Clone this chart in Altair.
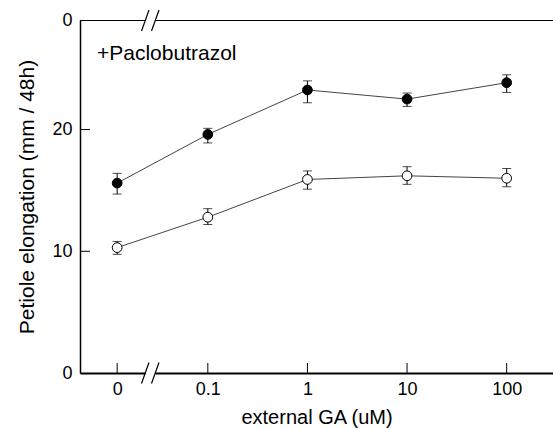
import altair as alt
import pandas as pd

# ---- data ----
doses = [0, 0.1, 1, 10, 100]
pac_mean = [15.6, 19.6, 23.25, 22.5, 23.85]
pac_lo = [14.7, 18.9, 22.2, 21.9, 23.05]
pac_hi = [16.4, 20.1, 24.0, 23.0, 24.5]
ctl_mean = [10.3, 12.8, 15.9, 16.2, 16.0]
ctl_lo = [9.75, 12.2, 15.1, 15.5, 15.3]
ctl_hi = [10.8, 13.5, 16.6, 16.95, 16.8]
y_tick_values = [0, 10, 20, 29]
y_tick_labels = ["0", "10", "20", "0"]
annotation = "+Paclobutrazol"

rows = []
for name, m, lo, hi in [("pac", pac_mean, pac_lo, pac_hi), ("ctl", ctl_mean, ctl_lo, ctl_hi)]:
    for d, a, b, c in zip(doses, m, lo, hi):
        rows.append({"series": name, "dose": d, "mean": a, "lo": b, "hi": c})
df = pd.DataFrame(rows)
dose_df = pd.DataFrame({"dose": doses})
ytick_df = pd.DataFrame({"v": [v for v in y_tick_values if 0 < v < 25]})
one_df = pd.DataFrame({"k": [0]})

W, H = 473, 353
FONT = "Liberation Sans"
XCALC = "datum.dose > 0 ? log(datum.dose) / LN10 : -1.91"

x_scale = alt.Scale(domain=[-2.283, 2.465], nice=False, zero=False)
y_scale = alt.Scale(domain=[0, 29], nice=False, zero=False)

y_label_expr = " : ".join(
    [f"datum.value == {v} ? '{l}'" for v, l in zip(y_tick_values, y_tick_labels)]
) + " : ''"

x_axis = alt.Axis(
    values=[-1.91, -1, 0, 1, 2],
    labelExpr="datum.value < -1.5 ? '0' : '' + pow(10, datum.value)",
    ticks=False, grid=False, domainColor="black", domainWidth=2,
    labelFontSize=18, labelPadding=7, labelColor="black",
    title="external GA (uM)", titleFontSize=20, titleFontWeight="normal",
    titlePadding=9, titleColor="black",
)
y_axis = alt.Axis(
    values=y_tick_values, labelExpr=y_label_expr,
    ticks=False, grid=False, domainColor="black", domainWidth=1.5,
    labelFontSize=18, labelPadding=8, labelColor="black",
    title="Petiole elongation (mm / 48h)", titleFontSize=21,
    titleFontWeight="normal", titlePadding=14, titleColor="black",
)


def X(field="xpos"):
    return alt.X(f"{field}:Q", scale=x_scale, axis=x_axis)


def Y(field):
    return alt.Y(f"{field}:Q", scale=y_scale, axis=y_axis)


base = alt.Chart(df).transform_calculate(xpos=XCALC)

lines = base.mark_line(color="#444444", strokeWidth=1).encode(
    x=X(), y=Y("mean"), detail="series:N",
)
err = base.mark_rule(color="black", strokeWidth=1).encode(
    x=X(), y=Y("lo"), y2="hi:Q",
)
cap_hi = base.mark_tick(color="black", orient="horizontal", size=9, thickness=1).encode(
    x=X(), y=Y("hi"),
)
cap_lo = base.mark_tick(color="black", orient="horizontal", size=9, thickness=1).encode(
    x=X(), y=Y("lo"),
)
points = base.mark_point(filled=True, size=95, strokeWidth=1, opacity=1).encode(
    x=X(), y=Y("mean"),
    fill=alt.Fill("series:N", scale=alt.Scale(domain=["pac", "ctl"], range=["black", "white"]), legend=None),
    stroke=alt.value("black"),
    shape=alt.value("circle"),
)

# inward tick marks
xticks = alt.Chart(dose_df).transform_calculate(xpos=XCALC).mark_rule(color="black", strokeWidth=1).encode(
    x=X(), y=alt.value(H - 10), y2=alt.value(H),
)
yticks = alt.Chart(ytick_df).mark_rule(color="black", strokeWidth=1).encode(
    y=Y("v"), x=alt.value(0), x2=alt.value(10),
)

# top frame line with break, and axis break marks
top1 = alt.Chart(one_df).mark_rule(color="black", strokeWidth=1.2).encode(
    x=alt.value(0), x2=alt.value(65.5), y=alt.value(0.5))
top2 = alt.Chart(one_df).mark_rule(color="black", strokeWidth=1.2).encode(
    x=alt.value(75.5), x2=alt.value(W), y=alt.value(0.5))
gap = alt.Chart(one_df).mark_rect(color="white").encode(
    x=alt.value(65.5), x2=alt.value(75.5), y=alt.value(H - 4), y2=alt.value(H + 4))
slashes = []
for yc in [0.5, H]:
    for x0 in [61.5, 71.5]:
        slashes.append(alt.Chart(one_df).mark_rule(color="black", strokeWidth=1.2).encode(
            x=alt.value(x0), x2=alt.value(x0 + 7.5),
            y=alt.value(yc + 10.5), y2=alt.value(yc - 10.5)))

label = alt.Chart(one_df).mark_text(
    text=annotation, align="left", baseline="alphabetic", fontSize=21,
    font=FONT, fontWeight="normal", color="black"
).encode(x=alt.value(17), y=alt.value(40))

chart = alt.layer(
    lines, err, cap_hi, cap_lo, points, xticks, yticks, top1, top2, gap, *slashes, label
).properties(
    width=W, height=H,
    padding={"left": 80, "top": 20, "right": 0, "bottom": 55},
    autosize=alt.AutoSizeParams(type="none"),
).configure(font=FONT).configure_view(strokeWidth=0)

chart.save("out.html", embed_options={"renderer": "svg", "actions": False})
